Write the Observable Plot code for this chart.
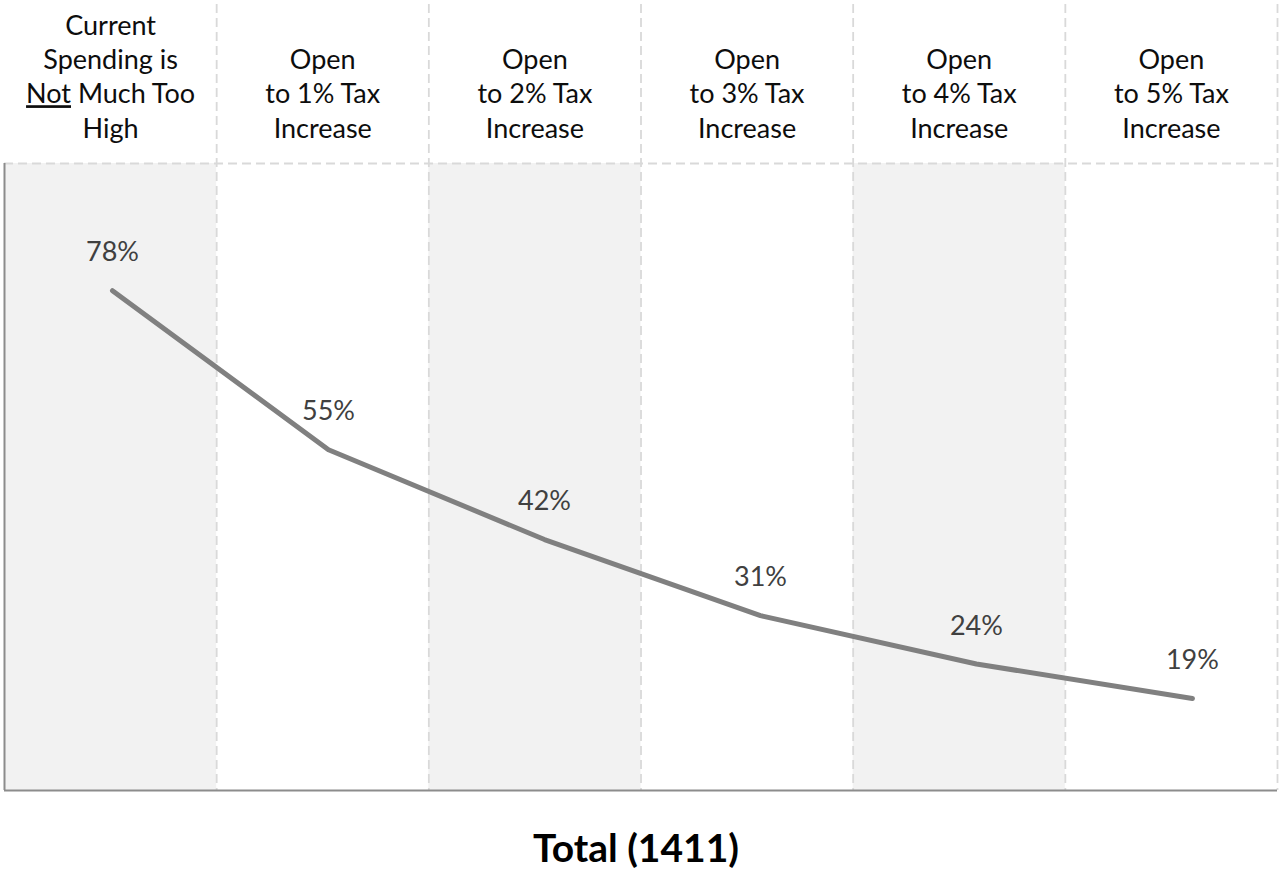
<!DOCTYPE html>
<html>
<head>
<meta charset="utf-8">
<script src="https://cdn.jsdelivr.net/npm/d3@7"></script>
<script src="https://cdn.jsdelivr.net/npm/@observablehq/plot@0.6"></script>
<style>
  html, body { margin: 0; padding: 0; background: #fff; }
  #wrap { width: 1281px; font-family: Lato, "Open Sans", sans-serif; }
  #title { width: 1272px; height: 73px; text-align: center; font-weight: bold; font-size: 39px; line-height: 94px; color: #000; }
</style>
</head>
<body>
<div id="wrap">
  <div id="chart"></div>
  <div id="title">Total (1411)</div>
</div>
<script>
// ---- data ----
const categories = [
  "Current\nSpending is\nNot Much Too\nHigh",
  "Open\nto 1% Tax\nIncrease",
  "Open\nto 2% Tax\nIncrease",
  "Open\nto 3% Tax\nIncrease",
  "Open\nto 4% Tax\nIncrease",
  "Open\nto 5% Tax\nIncrease"
];
const values = [78, 55, 42, 31, 24, 19];
const valueLabels = ["78%", "55%", "42%", "31%", "24%", "19%"];
const shadedColumns = [0, 2, 4];

// ---- layout constants ----
const yDomain = [5.7, 96.4];
const lineSlot = 1.018; // line category spacing relative to column width
const boundaries = [1, 2, 3, 4, 5, 6];

const pts = values.map((v, i) => ({x: (i + 0.5) * lineSlot, y: v, label: valueLabels[i]}));
const heads = categories.map((c, i) => ({x: i + 0.5, text: c}));

const chart = Plot.plot({
  width: 1281,
  height: 800,
  marginLeft: 4,
  marginRight: 4,
  marginTop: 163,
  marginBottom: 10,
  style: {fontFamily: "Lato, 'Open Sans', sans-serif", background: "#fff", overflow: "visible"},
  x: {type: "linear", domain: [0, 6], axis: null},
  y: {domain: yDomain, axis: null},
  marks: [
    Plot.rect(shadedColumns, {x1: d => d, x2: d => d + 1, fill: "#f2f2f2"}),
    Plot.ruleY([yDomain[1]], {x1: 0, x2: 6, stroke: "#d9d9d9", strokeWidth: 1.8, strokeDasharray: "9,5"}),
    Plot.ruleX(boundaries, {stroke: "#d9d9d9", strokeWidth: 1.8, strokeDasharray: "9,5", insetTop: -159}),
    Plot.ruleX([0], {stroke: "#8c8c8c", strokeWidth: 2}),
    Plot.ruleY([yDomain[0]], {x1: 0, x2: 6, stroke: "#8c8c8c", strokeWidth: 2}),
    Plot.line(pts, {x: "x", y: "y", stroke: "#808080", strokeWidth: 5, strokeLinecap: "round", strokeLinejoin: "round"}),
    Plot.text(pts, {x: "x", y: "y", text: "label", dy: -38, fontSize: 27, fill: "#404040", lineAnchor: "middle"}),
    Plot.text(heads, {x: "x", text: "text", frameAnchor: "top", dy: -26, lineAnchor: "bottom", fontSize: 27, lineHeight: 1.27, fill: "#0d0d0d"})
  ]
});
document.getElementById("chart").appendChild(chart);

// underline the word "Not"
chart.querySelectorAll("tspan").forEach(t => {
  if (t.textContent === "Not Much Too") {
    t.textContent = "";
    const u = document.createElementNS("http://www.w3.org/2000/svg", "tspan");
    u.textContent = "Not";
    u.setAttribute("text-decoration", "underline");
    u.style.textDecoration = "underline";
    t.appendChild(u);
    t.appendChild(document.createTextNode(" Much Too"));
  }
});
</script>
</body>
</html>
